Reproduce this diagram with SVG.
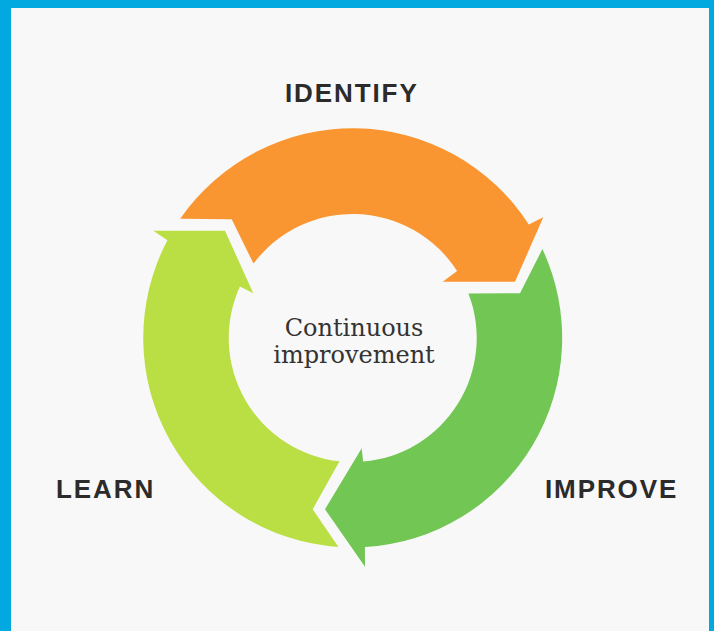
<svg xmlns="http://www.w3.org/2000/svg" width="714" height="631" viewBox="0 0 714 631">
  <style>
    .stage { font-family: "Liberation Sans", Arial, sans-serif; font-weight: bold; font-size: 26px; letter-spacing: 1.9px; fill: #2b2b2b; }
    .center { font-family: "DejaVu Serif", "Liberation Serif", serif; font-size: 24px; fill: #333333; text-anchor: middle; }
    .orange { fill: #FA9632; }
    .green { fill: #72C654; }
    .lime { fill: #BADF45; }
  </style>
  <rect x="0" y="0" width="714" height="631" fill="#02A9E0"/>
  <rect x="11" y="8" width="698" height="623" fill="#F9F8F8"/>
  <g id="connectors">
    <path id="arrow-identify" class="orange" d="M180.2 218.8 A209.5 209.5 0 0 1 528.8 224.5 L543.3 217.3 L515 281.7 L442.7 281.7 L457.1 271.0 A124 124 0 0 0 253.5 263.6 L231.7 219.3 Z"/>
    <path id="arrow-improve" class="green" d="M542.4 249.1 A209.5 209.5 0 0 1 364.9 547.1 L365 566.7 L325 509.3 L361.7 448.3 L363.1 461.6 A124 124 0 0 0 468.4 293.4 L520 293.3 Z"/>
    <path id="arrow-learn" class="lime" d="M338.45 547.0 A209.5 209.5 0 0 1 167.4 240.3 L153.3 230.7 L225 230.7 L253.3 293.3 L239.9 286.6 A124 124 0 0 0 339.5 461.3 L312.7 509.3 Z"/>
  </g>
  <g id="node-identify">
    <text class="stage" x="285" y="101.5">IDENTIFY</text>
  </g>
  <g id="node-improve">
    <text class="stage" x="545" y="498">IMPROVE</text>
  </g>
  <g id="node-learn">
    <text class="stage" x="56" y="498">LEARN</text>
  </g>
  <g id="node-center">
    <text class="center" x="354" y="335.5">Continuous</text>
    <text class="center" x="354" y="363">improvement</text>
  </g>
</svg>
